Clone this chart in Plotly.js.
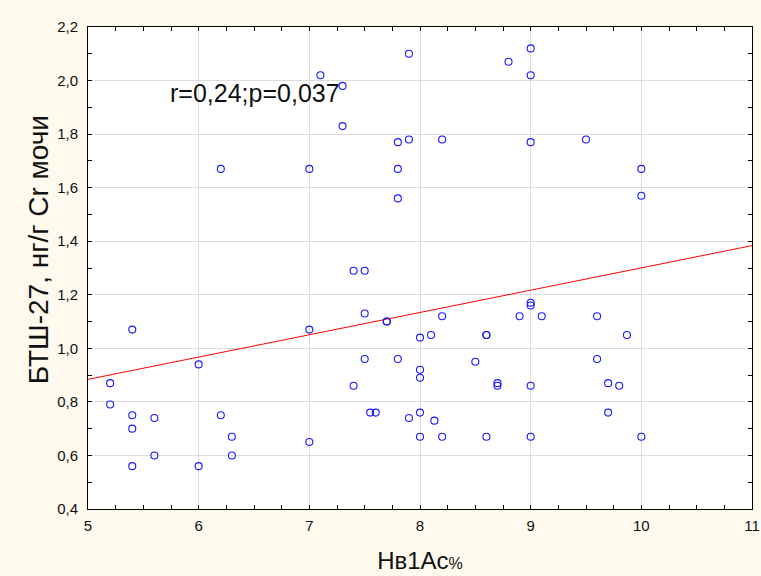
<!DOCTYPE html>
<html>
<head>
<meta charset="utf-8">
<script src="https://cdn.plot.ly/plotly-3.0.1.min.js"></script>
<style>html,body{margin:0;padding:0;background:#fff9ee;}</style>
</head>
<body>
<div id="chart" style="width:761px;height:576px;"></div>
<script>
// HbA1c (%) values
const hba1c = [
  7.1, 7.3, 7.3, 7.9, 8.8, 9.0, 9.0,
  6.2, 7.0, 7.8, 7.9, 8.2, 9.0, 9.5, 10.0, 10.0, 7.8, 7.8,
  7.4, 7.5, 7.5, 7.7, 7.7, 7.0, 5.4,
  6.0, 5.2, 5.2, 5.4, 5.6, 6.2, 5.4, 6.3, 6.3, 5.6, 5.4, 6.0, 7.0,
  8.2, 8.0, 8.1, 8.6, 8.6, 9.0, 9.0, 8.9, 9.1,
  7.5, 7.8, 8.5, 7.4, 8.0, 8.0, 8.7, 8.7, 9.0,
  7.55, 7.6, 7.9, 8.0, 8.13, 8.0, 8.2, 8.6, 9.0,
  9.6, 9.87, 9.6, 9.7, 9.8, 9.7, 10.0
];
// БТШ-27, нг/г Cr мочи
const hsp27 = [
  2.02, 1.98, 1.83, 2.10, 2.07, 2.12, 2.02,
  1.67, 1.67, 1.77, 1.78, 1.78, 1.77, 1.78, 1.67, 1.57, 1.67, 1.56,
  1.29, 1.29, 1.13, 1.10, 1.10, 1.07, 1.07,
  0.94, 0.87, 0.79, 0.75, 0.74, 0.75, 0.70, 0.67, 0.60, 0.60, 0.56, 0.56, 0.65,
  1.12, 1.04, 1.05, 1.05, 1.05, 1.17, 1.16, 1.12, 1.12,
  0.96, 0.96, 0.95, 0.86, 0.92, 0.89, 0.87, 0.86, 0.86,
  0.76, 0.76, 0.74, 0.76, 0.73, 0.67, 0.67, 0.67, 0.67,
  1.12, 1.05, 0.96, 0.87, 0.86, 0.76, 0.67
];
const xRange = [5, 11];
const yRange = [0.4, 2.2];
const yTicks = [0.4, 0.6, 0.8, 1.0, 1.2, 1.4, 1.6, 1.8, 2.0, 2.2];
const xTicks = [5, 6, 7, 8, 9, 10, 11];
const statText = 'r=0,24;p=0,037';
const yTitle = 'БТШ-27, нг/г Cr мочи';
const xTitle = 'Нв1Ас<span style="font-size:16px">%</span>';

// least-squares fit
const n = hba1c.length;
const mx = hba1c.reduce((a,b)=>a+b,0)/n;
const my = hsp27.reduce((a,b)=>a+b,0)/n;
let sxy=0, sxx=0;
for (let i=0;i<n;i++){ sxy += (hba1c[i]-mx)*(hsp27[i]-my); sxx += (hba1c[i]-mx)**2; }
const slope = sxy/sxx;
const intercept = my - slope*mx;
const fitX = xRange.slice();
const fitY = fitX.map(v => intercept + slope*v);

const FONT = 'Liberation Sans, Arial, sans-serif';

const traces = [
  {
    x: fitX, y: fitY, type: 'scatter', mode: 'lines',
    line: {color: '#ff0000', width: 1}, hoverinfo: 'skip', showlegend: false
  },
  {
    x: hba1c, y: hsp27, type: 'scatter', mode: 'markers',
    marker: {symbol: 'circle-open', size: 7, color: '#1a1aff', line: {width: 1.1, color: '#1a1aff'}},
    showlegend: false
  }
];

const axisCommon = {
  showline: true, linecolor: '#000', linewidth: 1, mirror: 'ticks',
  ticks: 'inside', ticklen: 4, tickcolor: '#000', tickwidth: 1,
  showgrid: true, gridcolor: '#dcdcdc', gridwidth: 1, zeroline: false,
  tickfont: {family: FONT, size: 15, color: '#111'}
};

const layout = {
  width: 761, height: 576,
  paper_bgcolor: '#fff9ee', plot_bgcolor: '#ffffff',
  separators: ', ',
  margin: {l: 88, r: 9, t: 27, b: 67},
  showlegend: false,
  xaxis: Object.assign({}, axisCommon, {
    range: xRange, tickvals: xTicks, ticklabelstandoff: 3,
    minor: {dtick: 0.25, ticks: 'inside', ticklen: 4, tickcolor: '#000', showgrid: false},
    title: {text: xTitle, font: {family: FONT, size: 24, color: '#111'}, standoff: 19}
  }),
  yaxis: Object.assign({}, axisCommon, {
    range: yRange, tickvals: yTicks, tickformat: '.1f', ticklabelstandoff: 6,
    minor: {dtick: 0.1, ticks: 'inside', ticklen: 4, tickcolor: '#000', showgrid: false}
  }),
  annotations: [
    {
      text: statText, x: 5.72, y: 1.955, xref: 'x', yref: 'y',
      xanchor: 'left', yanchor: 'middle', showarrow: false,
      font: {family: FONT, size: 25, color: '#111'}
    },
    {
      text: yTitle, xref: 'paper', yref: 'paper', x: -0.0753, y: 0.537,
      xanchor: 'center', yanchor: 'middle', textangle: -90, showarrow: false,
      font: {family: FONT, size: 28, color: '#111'}
    }
  ]
};

Plotly.newPlot('chart', traces, layout, {displayModeBar: false, staticPlot: true});
</script>
</body>
</html>
